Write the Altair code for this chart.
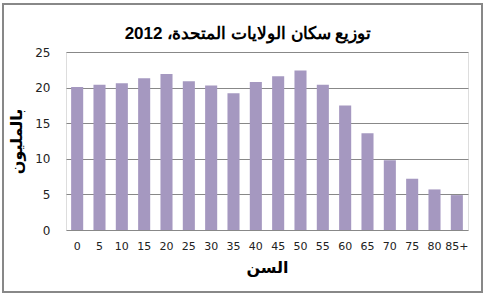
import altair as alt
import pandas as pd

ages = ["0", "5", "10", "15", "20", "25", "30", "35", "40", "45", "50", "55",
        "60", "65", "70", "75", "80", "85+"]
population = [20.1, 20.4, 20.6, 21.3, 21.9, 20.9, 20.3, 19.2, 20.8, 21.6, 22.4,
              20.4, 17.5, 13.6, 9.8, 7.2, 5.7, 4.9]

title_text = "توزيع سكان الولايات المتحدة، 2012"
x_title = "السن"
y_title = "بالمليون"

df = pd.DataFrame({"age": ages, "pop": population})

bars = alt.Chart(df).mark_bar(color="#A598C0").encode(
    x=alt.X("age:N", sort=ages,
            scale=alt.Scale(paddingInner=0.46, paddingOuter=0.23),
            axis=alt.Axis(title=x_title, labelAngle=0, domain=False, ticks=False,
                          labelPadding=10, labelFontSize=11, labelColor="#222",
                          labelFont="DejaVu Sans",
                          titleFont="DejaVu Sans", titleFontSize=16, titleFontWeight="bold",
                          titleColor="#000", titlePadding=8)),
    y=alt.Y("pop:Q", scale=alt.Scale(domain=[0, 25]),
            axis=alt.Axis(title=y_title, values=[0, 5, 10, 15, 20, 25], domain=False,
                          ticks=False, labelPadding=16, labelFontSize=12,
                          labelColor="#222", labelFont="DejaVu Sans",
                          gridColor="#888", gridWidth=1,
                          titleFont="DejaVu Sans", titleFontSize=16, titleFontWeight="bold",
                          titleColor="#000", titlePadding=10)),
)

border = alt.Chart(df).mark_rect(fill=None, stroke="#888", strokeWidth=1.2).encode(
    x=alt.value(-63), x2=alt.value(416), y=alt.value(-48), y2=alt.value(240)
)

chart = alt.layer(bars, border).properties(
    width=402, height=178,
    padding={"left": 66, "top": 52, "right": 32, "bottom": 68},
    autosize=alt.AutoSizeParams(type="none"),
    title=alt.TitleParams(title_text, font="Liberation Sans", fontSize=17,
                          fontWeight="bold", color="#000", anchor="middle",
                          frame="group", baseline="alphabetic", offset=-53, dx=-19),
).configure_view(stroke=None).configure(background="white")

chart.save("out.html", embed_options={"renderer": "svg", "actions": False})
